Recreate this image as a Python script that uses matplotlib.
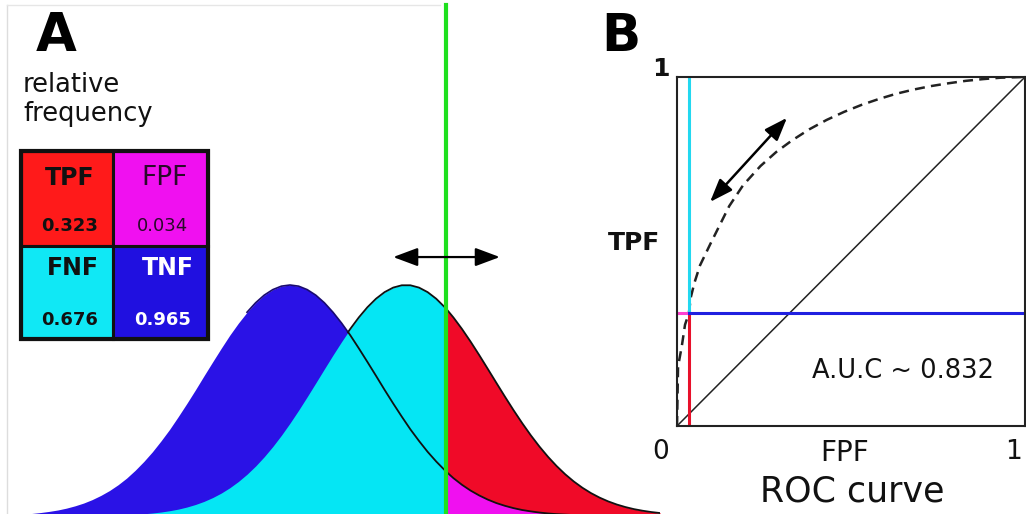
import numpy as np
import matplotlib.pyplot as plt
from matplotlib.patches import Rectangle

# test score axis, in units of the negative-class SD (0.1 steps, plus the
# crossing point of the two curves and the decision threshold)
scores = np.array([-3.4, -3.3, -3.2, -3.1, -3.0, -2.9, -2.8, -2.7, -2.6, -2.5,
                   -2.4, -2.3, -2.2, -2.1, -2.0, -1.9, -1.8, -1.7, -1.6, -1.5,
                   -1.4, -1.3, -1.2, -1.1, -1.0, -0.9, -0.8, -0.7, -0.6, -0.5,
                   -0.4, -0.3, -0.2, -0.1, 0.0, 0.1, 0.2, 0.3, 0.4, 0.5,
                   0.6, 0.675, 0.7, 0.8, 0.9, 1.0, 1.1, 1.2, 1.3, 1.4,
                   1.5, 1.6, 1.7, 1.8, 1.81, 1.9, 2.0, 2.1, 2.2, 2.3,
                   2.4, 2.5, 2.6, 2.7, 2.8, 2.9, 3.0, 3.1, 3.2, 3.3,
                   3.4, 3.5, 3.6, 3.7, 3.8, 3.9, 4.0, 4.1, 4.2, 4.3,
                   4.4])
# relative frequency of the negative (blue) class
freq_neg = np.array([0.003, 0.004, 0.006, 0.008, 0.011, 0.015, 0.020, 0.026, 0.034, 0.044,
                     0.056, 0.071, 0.089, 0.110, 0.135, 0.164, 0.198, 0.236, 0.278, 0.325,
                     0.375, 0.430, 0.487, 0.546, 0.607, 0.667, 0.726, 0.783, 0.835, 0.882,
                     0.923, 0.956, 0.980, 0.995, 1.000, 0.995, 0.980, 0.956, 0.923, 0.882,
                     0.835, 0.796, 0.783, 0.726, 0.667, 0.607, 0.546, 0.487, 0.430, 0.375,
                     0.325, 0.278, 0.236, 0.198, 0.194, 0.164, 0.135, 0.110, 0.089, 0.071,
                     0.056, 0.044, 0.034, 0.026, 0.020, 0.015, 0.011, 0.008, 0.006, 0.004,
                     0.003, 0.002, 0.0015, 0.001, 0.0007, 0.0005, 0.0003, 0.0002, 0.0001, 0.0001,
                     0.0])
# relative frequency of the positive (cyan / red) class
freq_pos = np.array([0.0, 0.0, 0.0, 0.0, 0.0001, 0.0001, 0.0002, 0.0003, 0.0004, 0.0006,
                     0.0009, 0.0013, 0.0018, 0.0026, 0.0037, 0.0051, 0.0070, 0.0096, 0.0129, 0.0172,
                     0.0228, 0.0297, 0.0387, 0.0497, 0.0632, 0.0796, 0.0991, 0.1223, 0.1494, 0.1807,
                     0.2163, 0.2564, 0.3008, 0.3494, 0.4020, 0.4578, 0.5162, 0.5762, 0.6368, 0.6968,
                     0.7548, 0.796, 0.8095, 0.8596, 0.9037, 0.9406, 0.9692, 0.9888, 0.9988, 0.9988,
                     0.9888, 0.9692, 0.9406, 0.9037, 0.900, 0.8596, 0.8095, 0.7548, 0.6968, 0.6368,
                     0.5762, 0.5162, 0.4578, 0.4020, 0.3494, 0.3008, 0.2564, 0.2163, 0.1807, 0.1494,
                     0.1223, 0.0991, 0.0796, 0.0632, 0.0497, 0.0387, 0.0297, 0.0228, 0.0172, 0.0129,
                     0.0096])
threshold = 1.81
crossing = 0.675

cell_labels = ["TPF", "FPF", "FNF", "TNF"]
cell_values = [0.323, 0.034, 0.676, 0.965]
auc = 0.832

# ROC curve
roc_fpf = [0.0, 0.003, 0.014, 0.023, 0.034, 0.040, 0.050, 0.066, 0.095, 0.120,
           0.150, 0.190, 0.240, 0.285, 0.330, 0.380, 0.430, 0.480, 0.530, 0.580,
           0.630, 0.680, 0.730, 0.780, 0.830, 0.880, 0.930, 1.0]
roc_tpf = [0.0, 0.170, 0.230, 0.290, 0.323, 0.370, 0.410, 0.460, 0.520, 0.570,
           0.630, 0.690, 0.745, 0.785, 0.818, 0.850, 0.877, 0.900, 0.920, 0.937,
           0.952, 0.964, 0.974, 0.982, 0.989, 0.994, 0.998, 1.0]

BLUE = "#2a12e6"
CYAN = "#05e6f4"
RED = "#f00a28"
MAGENTA = "#f010f0"
GREEN = "#1fe01f"

W, H = 1026, 514
fig = plt.figure(figsize=(W / 100, H / 100), dpi=100)
fig.patch.set_facecolor("white")

# ---- panel A: the two distributions
axA = fig.add_axes([0, 0, 660 / W, 1])
axA.set_xlim(-290 / 86, 370 / 86)
axA.set_ylim(2 / 231, 516 / 231)
axA.axis("off")

left = scores <= threshold
right = scores >= threshold
axA.fill_between(scores, 0, freq_neg, color=BLUE, lw=0, zorder=1)
axA.fill_between(scores[left], 0, freq_pos[left], color=CYAN, lw=0, zorder=2)
axA.fill_between(scores[right], 0, freq_pos[right], color=RED, lw=0, zorder=2)
axA.fill_between(scores[right], 0, freq_neg[right], color=MAGENTA, lw=0, zorder=3)
m = scores >= crossing
axA.plot(scores[m], freq_pos[m], color="#111111", lw=1.3, zorder=4)
m = (scores >= -0.5) & (scores <= crossing)
axA.plot(scores[m], freq_neg[m], color="#1a0a70", lw=1.2, zorder=4)
m = scores >= crossing
axA.plot(scores[m], freq_neg[m], color="#111111", lw=1.3, zorder=4)
axA.axvline(threshold, ymin=0, ymax=(H - 5) / H, color=GREEN, lw=3, zorder=5)
axA.annotate("", xy=(1.2, 1.121), xytext=(2.44, 1.121),
             arrowprops=dict(arrowstyle="<|-|>,head_length=0.75,head_width=0.28",
                             mutation_scale=20, lw=1.6, color="black",
                             shrinkA=0, shrinkB=0), zorder=6)

# ---- panel B: ROC
axB = fig.add_axes([677 / W, (H - 426) / H, 348 / W, 349 / H])
axB.set_xlim(0, 1)
axB.set_ylim(0, 1)
axB.set_xticks([])
axB.set_yticks([])
for sp in axB.spines.values():
    sp.set_linewidth(1.5)
    sp.set_color("#222222")
fpf_op, tpf_op = cell_values[1], cell_values[0]
axB.plot([0, 1], [0, 1], color="#222222", lw=1.1)
axB.plot(roc_fpf, roc_tpf, color="#222222", lw=1.8, ls=(0, (4, 2.5)))
axB.plot([fpf_op, fpf_op], [tpf_op, 1], color="#22d8f0", lw=2.2)
axB.plot([fpf_op, fpf_op], [0, tpf_op], color="#e8102a", lw=2.2)
axB.plot([0, fpf_op], [tpf_op, tpf_op], color="#ff40d0", lw=2.2)
axB.plot([fpf_op, 1], [tpf_op, tpf_op], color="#2020e0", lw=2.2)
axB.annotate("", xy=(0.095, 0.642), xytext=(0.316, 0.883),
             arrowprops=dict(arrowstyle="<|-|>,head_length=0.7,head_width=0.26",
                             mutation_scale=20, lw=1.8, color="black",
                             shrinkA=0, shrinkB=0))
axB.text(0.6506, 0.1585, f"A.U.C ~ {auc:.3f}", ha="center", va="center",
         fontsize=18.5, color="#111111")

# ---- overlay in pixel coordinates for labels and the table
ov = fig.add_axes([0, 0, 1, 1], facecolor="none")
ov.set_xlim(0, W)
ov.set_ylim(H, 0)
ov.axis("off")

ov.plot([7, 7], [5, H], color="#dddddd", lw=1)
ov.plot([7, 440], [5, 5], color="#e6e6e6", lw=1)

ov.text(56, 36, "A", ha="center", va="center", fontsize=38, fontweight="bold")
ov.text(621, 37, "B", ha="center", va="center", fontsize=37, fontweight="bold")
ov.text(23, 92, "relative", ha="left", va="baseline", fontsize=18.5, color="#111111")
ov.text(23, 121, "frequency", ha="left", va="baseline", fontsize=18.5, color="#111111")

# 2x2 table
x0, x1, x2 = 21, 113, 208
y0, y1, y2 = 151, 246, 339
cell_colors = ["#ff1a1a", MAGENTA, "#10e8f5", "#2010e0"]
boxes = [(x0, y0, x1, y1), (x1, y0, x2, y1), (x0, y1, x1, y2), (x1, y1, x2, y2)]
for (a, b, c, d), col in zip(boxes, cell_colors):
    ov.add_patch(Rectangle((a, b), c - a, d - b, facecolor=col, edgecolor="#111111", lw=2.2))
ov.add_patch(Rectangle((x0, y0), x2 - x0, y2 - y0, facecolor="none", edgecolor="#111111", lw=3))

label_pos = [(70, 178), (165, 178), (73, 268), (168, 268)]
value_pos = [(70, 226), (163, 226), (70, 320), (163, 320)]
label_size = [17, 19, 17, 17]
label_style = [dict(color="#111111", fontweight="bold"),
               dict(color="#2a0a2a", fontweight="normal"),
               dict(color="#111111", fontweight="bold"),
               dict(color="white", fontweight="bold")]
for lab, val, lp, vp, fs, st in zip(cell_labels, cell_values, label_pos, value_pos,
                                    label_size, label_style):
    ov.text(lp[0], lp[1], lab, ha="center", va="center", fontsize=fs, **st)
    ov.text(vp[0], vp[1], f"{val:.3f}", ha="center", va="center", fontsize=13, **st)

ov.text(634, 243, "TPF", ha="center", va="center", fontsize=18, fontweight="bold", color="#111111")
ov.text(661, 69, "1", ha="center", va="center", fontsize=18, fontweight="bold", color="#111111")
ov.text(661, 452, "0", ha="center", va="center", fontsize=19, color="#111111")
ov.text(845, 453, "FPF", ha="center", va="center", fontsize=20, color="#111111")
ov.text(1013, 452, "1", ha="center", va="center", fontsize=19, color="#111111")
ov.text(852, 491, "ROC curve", ha="center", va="center", fontsize=25, color="#111111")

fig.savefig("out.png", dpi=100)
